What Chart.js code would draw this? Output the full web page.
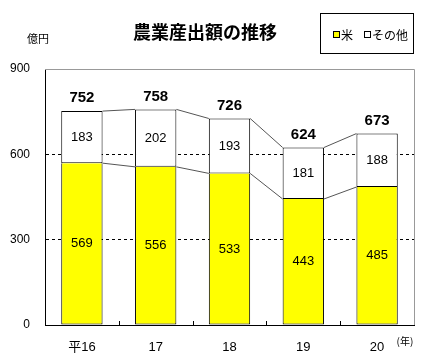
<!DOCTYPE html>
<html>
<head>
<meta charset="utf-8">
<script src="https://cdn.jsdelivr.net/npm/chart.js@4/dist/chart.umd.min.js"></script>
<style>
    body { margin: 0; background: #fff; }
    #wrap { width: 426px; height: 364px; }
</style>
</head>
<body>
<div id="wrap"><canvas id="chart" width="426" height="364"></canvas></div>
<script>
const years = ['平16', '17', '18', '19', '20'];
const rice = [569, 556, 533, 443, 485];
const other = [183, 202, 193, 181, 188];
const totals = [752, 758, 726, 624, 673];
const yTicks = [0, 300, 600, 900];

const FONT = '"Liberation Sans", "Noto Sans CJK JP", sans-serif';
const JFONT = '"Noto Sans CJK JP", sans-serif';

// frame, series lines, labels, title, legend
const decorPlugin = {
    id: 'decor',
    afterDatasetsDraw: function(chart){
        const ctx = chart.ctx;
        const area = chart.chartArea;
        const xScale = chart.scales.x;
        const riceMeta = chart.getDatasetMeta(0);
        const otherMeta = chart.getDatasetMeta(1);

        ctx.save();

        // top / right frame
        ctx.strokeStyle = '#999';
        ctx.lineWidth = 1;
        ctx.beginPath();
        ctx.moveTo(area.left, area.top + 0.5);
        ctx.lineTo(area.right + 0.5, area.top + 0.5);
        ctx.lineTo(area.right + 0.5, area.bottom);
        ctx.stroke();

        // inner ticks on category boundaries
        ctx.strokeStyle = '#000';
        ctx.beginPath();
        for (let i = 1; i < years.length; i++) {
            let x = Math.round((xScale.getPixelForValue(i - 1) + xScale.getPixelForValue(i)) / 2) + 0.5;
            ctx.moveTo(x, area.bottom);
            ctx.lineTo(x, area.bottom - 4);
        }
        ctx.stroke();

        // series lines between bars
        ctx.strokeStyle = '#555';
        ctx.beginPath();
        for (let i = 0; i < years.length - 1; i++) {
            let a = riceMeta.data[i], b = riceMeta.data[i + 1];
            ctx.moveTo(a.x + a.width / 2, a.y);
            ctx.lineTo(b.x - b.width / 2, b.y);
            a = otherMeta.data[i]; b = otherMeta.data[i + 1];
            ctx.moveTo(a.x + a.width / 2, a.y);
            ctx.lineTo(b.x - b.width / 2, b.y);
        }
        ctx.stroke();

        // segment values
        ctx.fillStyle = '#000';
        ctx.textAlign = 'center';
        ctx.textBaseline = 'middle';
        ctx.font = '13px ' + FONT;
        for (let i = 0; i < years.length; i++) {
            let r = riceMeta.data[i];
            ctx.fillText(rice[i], r.x, (r.y + r.base) / 2);
            let o = otherMeta.data[i];
            ctx.fillText(other[i], o.x, (o.y + o.base) / 2);
        }

        // totals
        ctx.font = 'bold 15px ' + FONT;
        for (let i = 0; i < years.length; i++) {
            let o = otherMeta.data[i];
            ctx.fillText(totals[i], o.x, o.y - 13);
        }

        // title
        ctx.font = 'bold 18px ' + JFONT;
        ctx.fillText('農業産出額の推移', 205, 32);

        // unit
        ctx.font = '11px ' + JFONT;
        ctx.fillText('億円', 38, 39);

        // year suffix
        ctx.font = '10px ' + JFONT;
        ctx.fillText('(年)', 405, 341);

        // legend
        ctx.strokeStyle = '#000';
        ctx.strokeRect(320.5, 13.5, 93, 40);
        ctx.fillStyle = '#ffff00';
        ctx.fillRect(333.5, 31.5, 6, 6);
        ctx.strokeRect(333.5, 31.5, 6, 6);
        ctx.fillStyle = '#fff';
        ctx.fillRect(364.5, 31.5, 6, 6);
        ctx.strokeRect(364.5, 31.5, 6, 6);
        ctx.fillStyle = '#000';
        ctx.textAlign = 'left';
        ctx.font = '12px ' + JFONT;
        ctx.fillText('米', 341, 35);
        ctx.fillText('その他', 372, 35);

        ctx.restore();
    }
};

const ctx = document.getElementById('chart');

new Chart(ctx, {
    type: 'bar',
    data: {
        labels: years,
        datasets: [{
            label: '米',
            data: rice,
            backgroundColor: '#ffff00',
            borderColor: '#000',
            borderWidth: 1,
            borderSkipped: 'top'
        }, {
            label: 'その他',
            data: other,
            backgroundColor: '#fff',
            borderColor: '#000',
            borderWidth: 1,
            borderSkipped: false
        }]
    },
    options: {
        responsive: false,
        animation: false,
        layout: { padding: { left: 0, right: 12, top: 69, bottom: 0 } },
        datasets: { bar: { categoryPercentage: 1, barPercentage: 0.56 } },
        plugins: {
            legend: { display: false },
            tooltip: { enabled: false }
        },
        scales: {
            x: {
                stacked: true,
                afterFit: function(scale){ scale.height = 39; },
                grid: { display: false, drawTicks: false },
                border: { display: true, color: '#000' },
                ticks: { padding: 15, color: '#000', font: { size: 13, family: FONT } }
            },
            y: {
                stacked: true,
                min: 0,
                max: 900,
                afterFit: function(scale){ scale.width = 45; },
                afterBuildTicks: function(scale){ scale.ticks = yTicks.map(v => ({ value: v })); },
                grid: {
                    drawTicks: false,
                    color: c => (c.tick.value === 0 || c.tick.value === 900) ? 'rgba(0,0,0,0)' : '#000',
                },
                border: { display: true, color: '#000', dash: [3, 3] },
                ticks: { padding: 15, color: '#000', font: { size: 12, family: FONT } }
            }
        }
    },
    plugins: [decorPlugin]
});
</script>
</body>
</html>
